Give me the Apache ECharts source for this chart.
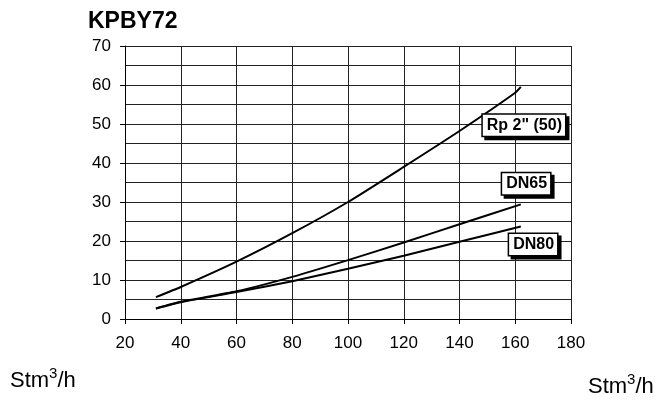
<!DOCTYPE html>
<html><head><meta charset="utf-8">
<script src="https://cdn.jsdelivr.net/npm/echarts@6/dist/echarts.min.js"></script>
<style>html,body{margin:0;padding:0;background:#fff}#c{width:671px;height:405px}</style>
</head><body><div id="c"></div>
<script>
const title = 'KPBY72';
const xTicks = [20, 40, 60, 80, 100, 120, 140, 160, 180];
const yTicks = [0, 10, 20, 30, 40, 50, 60, 70];
const rpX   = [31.1, 40, 60, 80, 100, 120, 140, 160, 162];
const rpY   = [5.6, 8.2, 14.7, 22, 30, 39, 48.2, 58, 59.5];
const dn65X = [31.1, 40, 60, 80, 100, 120, 140, 162];
const dn65Y = [2.7, 4.4, 7.1, 10.8, 15.1, 19.6, 24.3, 29.4];
const dn80X = [31.1, 40, 60, 80, 100, 120, 140, 162];
const dn80Y = [2.7, 4.3, 6.9, 9.7, 12.9, 16.2, 19.8, 23.7];
const labels = ['Rp 2" (50)', 'DN65', 'DN80'];
const labelAt = [[163.1, 49.7], [163.9, 34.7], [166.4, 19.1]];

const pairs = (xs, ys) => xs.map((x, i) => [x, ys[i]]);
const font = '"Liberation Sans", Arial, sans-serif';
const lineStyle = {color: '#000', width: 2};
function mkSeries(name, xs, ys, idx) {
  return {
    type: 'line', name, data: pairs(xs, ys), smooth: 0.2, showSymbol: false,
    lineStyle, silent: true, animation: false,
    markPoint: {
      symbol: 'circle', symbolSize: 0, silent: true, animation: false,
      data: [{coord: labelAt[idx], value: name}],
      label: {
        show: true, position: 'inside', formatter: name,
        fontFamily: font, fontWeight: 'bold', fontSize: 16, color: '#000',
        backgroundColor: '#fff', borderColor: '#000', borderWidth: 1.5,
        padding: [3, 3, 2, 4],
        shadowColor: '#000', shadowBlur: 0, shadowOffsetX: 3, shadowOffsetY: 3
      }
    }
  };
}
const unitRich = {
  a: {fontFamily: font, fontSize: 22, fill: '#000', verticalAlign: 'bottom', lineHeight: 26},
  s: {fontFamily: font, fontSize: 15, fill: '#000', verticalAlign: 'top', lineHeight: 26, padding: [0, 0, 12, 0]}
};
const chart = echarts.init(document.getElementById('c'), null, {renderer: 'canvas'});
chart.setOption({
  animation: false,
  backgroundColor: '#fff',
  title: {text: title, left: 83, top: 5, textStyle: {fontFamily: font, fontWeight: 'bold', fontSize: 23, color: '#000'}},
  grid: {left: 125, right: 100, top: 46, bottom: 86, containLabel: false},
  xAxis: {
    type: 'value', min: xTicks[0], max: xTicks[xTicks.length - 1], interval: 20,
    axisLine: {show: true, lineStyle: {color: '#000', width: 1}},
    axisTick: {show: true, length: 5, lineStyle: {color: '#000'}},
    axisLabel: {fontFamily: font, fontSize: 17, color: '#000', margin: 16},
    splitLine: {show: true, lineStyle: {color: '#222', width: 1}}
  },
  yAxis: {
    type: 'value', min: yTicks[0], max: yTicks[yTicks.length - 1], interval: 10,
    axisLine: {show: true, lineStyle: {color: '#000', width: 1}},
    axisTick: {show: true, length: 5, lineStyle: {color: '#000'}},
    axisLabel: {fontFamily: font, fontSize: 17, color: '#000', margin: 14},
    splitLine: {show: true, lineStyle: {color: '#222', width: 1}},
    minorTick: {show: false, splitNumber: 2},
    minorSplitLine: {show: true, lineStyle: {color: '#222', width: 1}}
  },
  series: [
    mkSeries(labels[0], rpX, rpY, 0),
    mkSeries(labels[1], dn65X, dn65Y, 1),
    mkSeries(labels[2], dn80X, dn80Y, 2)
  ],
  graphic: [
    {type: 'text', left: 10, top: 366, style: {text: '{a|Stm}{s|3}{a|/h}', rich: unitRich}},
    {type: 'text', left: 588, top: 372, style: {text: '{a|Stm}{s|3}{a|/h}', rich: unitRich}}
  ]
});
</script></body></html>
